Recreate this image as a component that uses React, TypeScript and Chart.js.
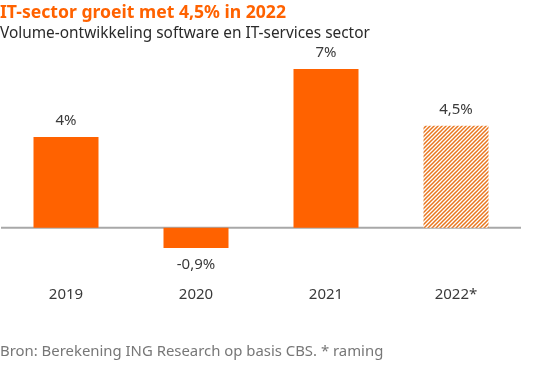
import React, { useEffect, useRef } from "react";
import { Chart, registerables } from "chart.js";
Chart.register(...registerables);

const categories = ["2019", "2020", "2021", "2022*"];
const values = [4, -0.9, 7, 4.5];
const valueLabels = ["4%", "-0,9%", "7%", "4,5%"];
const forecast = [false, false, false, true];
const titleText = "IT-sector groeit met 4,5% in 2022";
const subtitleText = "Volume-ontwikkeling software en IT-services sector";
const sourceText = "Bron: Berekening ING Research op basis CBS. * raming";

const ORANGE = "#FF6200";
const FONT = "'Noto Sans', sans-serif";

function makeHatch(): CanvasPattern | string {
  const c = document.createElement("canvas");
  c.width = 4;
  c.height = 4;
  const g = c.getContext("2d");
  if (!g) return ORANGE;
  g.fillStyle = "#ffffff";
  g.fillRect(0, 0, 4, 4);
  g.strokeStyle = "#E8761F";
  g.lineWidth = 1.5;
  for (let k = -1; k <= 1; k++) {
    g.beginPath();
    g.moveTo(k * 4 - 1, 5);
    g.lineTo(k * 4 + 5, -1);
    g.stroke();
  }
  const p = g.createPattern(c, "repeat");
  return p || ORANGE;
}

const decorPlugin = {
  id: "decor",
  beforeDatasetsDraw(chart: any) {
    const { ctx, chartArea, scales } = chart;
    const y0 = scales.y.getPixelForValue(0);
    ctx.save();
    ctx.strokeStyle = "#a8a8a8";
    ctx.lineWidth = 2;
    ctx.beginPath();
    ctx.moveTo(chartArea.left, y0);
    ctx.lineTo(chartArea.right, y0);
    ctx.stroke();
    ctx.restore();
  },
  afterDatasetsDraw(chart: any) {
    const { ctx } = chart;
    const meta = chart.getDatasetMeta(0);
    ctx.save();
    ctx.fillStyle = "#3a3a3a";
    ctx.textAlign = "center";
    ctx.textBaseline = "middle";
    ctx.font = `15px ${FONT}`;
    meta.data.forEach((bar: any, i: number) => {
      const v = values[i];
      const ly = v >= 0 ? bar.y - 16 : bar.y + 17;
      ctx.fillText(valueLabels[i], bar.x, ly);
      ctx.fillText(categories[i], bar.x, 295);
    });
    ctx.restore();
  },
  afterDraw(chart: any) {
    const { ctx } = chart;
    ctx.save();
    ctx.textAlign = "left";
    ctx.textBaseline = "middle";
    ctx.fillStyle = ORANGE;
    ctx.font = `bold 17.6px ${FONT}`;
    ctx.fillText(titleText, 0, 13);
    ctx.fillStyle = "#2a2a2a";
    ctx.font = `15.4px ${FONT}`;
    ctx.fillText(subtitleText, 0, 34);
    ctx.fillStyle = "#777777";
    ctx.font = `14.9px ${FONT}`;
    ctx.fillText(sourceText, 0, 352);
    ctx.restore();
  },
};

export default function App() {
  const ref = useRef<HTMLCanvasElement | null>(null);
  useEffect(() => {
    document.body.style.margin = "0";
    if (!ref.current) return;
    const hatch = makeHatch();
    const chart = new Chart(ref.current, {
      type: "bar",
      data: {
        labels: categories,
        datasets: [
          {
            data: values,
            backgroundColor: forecast.map((f) => (f ? hatch : ORANGE)) as any,
            borderWidth: 0,
            barPercentage: 0.5,
            categoryPercentage: 1,
          },
        ],
      },
      options: {
        animation: false,
        responsive: false,
        maintainAspectRatio: false,
        devicePixelRatio: 1,
        layout: { padding: { left: 1, right: 34, top: 69, bottom: 94 } },
        plugins: {
          legend: { display: false },
          tooltip: { enabled: false },
          title: { display: false },
        },
        scales: {
          x: { display: false },
          y: { display: false, min: -2, max: 7 },
        },
      },
      plugins: [decorPlugin],
    });
    return () => chart.destroy();
  }, []);
  return (
    <div style={{ position: "fixed", left: 0, top: 0, width: 555, height: 367, background: "#fff" }}>
      <canvas ref={ref} width={555} height={367} style={{ width: 555, height: 367, display: "block" }} />
    </div>
  );
}
